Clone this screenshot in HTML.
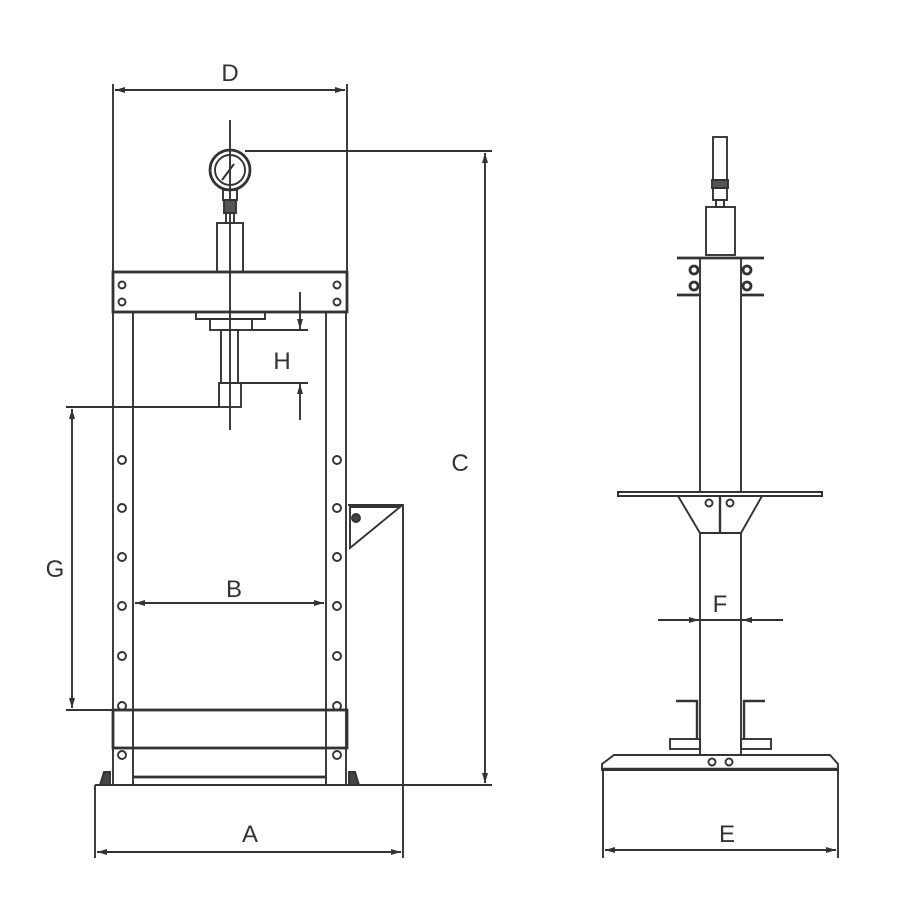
<!DOCTYPE html>
<html><head><style>
html,body{margin:0;padding:0;background:#fff;}
svg{display:block;}
text{font-family:"Liberation Sans",sans-serif;font-size:24px;fill:#333;text-anchor:middle;}
</style></head><body>
<svg width="900" height="900" viewBox="0 0 900 900" xmlns="http://www.w3.org/2000/svg">
<defs>
<marker id="ar" viewBox="0 0 10 6" refX="10" refY="3" markerWidth="10" markerHeight="6" orient="auto-start-reverse" markerUnits="userSpaceOnUse">
<path d="M0,0 L10,3 L0,6 z" fill="#333"/>
</marker>
</defs>
<g stroke="#333" stroke-width="1.9" fill="none">
<line x1="113" y1="84" x2="113" y2="272"/>
<line x1="347" y1="84" x2="347" y2="272"/>
<line x1="115" y1="90" x2="345" y2="90" marker-start="url(#ar)" marker-end="url(#ar)"/>
<line x1="230" y1="120" x2="230" y2="430"/>
<circle cx="230" cy="170" r="20" stroke-width="2.8"/>
<circle cx="230" cy="170" r="15"/>
<line x1="222" y1="180" x2="234" y2="164" stroke-width="2"/>
<line x1="245" y1="151" x2="492" y2="151"/>
<rect x="223" y="190" width="14" height="10"/>
<rect x="224" y="200" width="12" height="13" fill="#555"/>
<rect x="226" y="213" width="8" height="10"/>
<rect x="217" y="223" width="26" height="49"/>
<rect x="113" y="272" width="234" height="40" stroke-width="2.8"/>
<circle cx="122" cy="285" r="3.5"/><circle cx="122" cy="302" r="3.5"/>
<circle cx="337" cy="285" r="3.5"/><circle cx="337" cy="302" r="3.5"/>
<polyline points="196,312 196,319 265,319 265,312"/>
<rect x="210" y="319" width="42" height="11"/>
<rect x="221" y="330" width="17" height="53"/>
<rect x="219" y="383" width="22" height="24"/>
<line x1="252" y1="330" x2="308" y2="330"/>
<line x1="241" y1="383" x2="308" y2="383"/>
<line x1="300" y1="292" x2="300" y2="329" marker-end="url(#ar)"/>
<line x1="300" y1="420" x2="300" y2="384" marker-end="url(#ar)"/>
<line x1="113" y1="312" x2="113" y2="785"/>
<line x1="133" y1="312" x2="133" y2="785"/>
<line x1="326" y1="312" x2="326" y2="785"/>
<line x1="346" y1="312" x2="346" y2="785"/>
<line x1="66" y1="407" x2="219" y2="407"/>
<line x1="72" y1="409" x2="72" y2="708" marker-start="url(#ar)" marker-end="url(#ar)"/>
<line x1="66" y1="710" x2="113" y2="710"/>
<g>
<circle cx="122" cy="460" r="4"/><circle cx="122" cy="508" r="4"/><circle cx="122" cy="557" r="4"/><circle cx="122" cy="606" r="4"/><circle cx="122" cy="656" r="4"/><circle cx="122" cy="706" r="4"/><circle cx="122" cy="755" r="4"/>
<circle cx="337" cy="460" r="4"/><circle cx="337" cy="508" r="4"/><circle cx="337" cy="557" r="4"/><circle cx="337" cy="606" r="4"/><circle cx="337" cy="656" r="4"/><circle cx="337" cy="706" r="4"/><circle cx="337" cy="755" r="4"/>
</g>
<line x1="135" y1="603" x2="324" y2="603" marker-start="url(#ar)" marker-end="url(#ar)"/>
<rect x="113" y="710" width="234" height="38" stroke-width="2.8"/>
<line x1="133" y1="777" x2="326" y2="777" stroke-width="2.8"/>
<path d="M100,785 L104,772 L110,772 L110,785" fill="#444"/>
<path d="M359,785 L355,772 L349,772 L349,785" fill="#444"/>
<polyline points="348,505 403,505 403,858"/>
<polygon points="350,507 400,507 350,548"/>
<circle cx="356" cy="518" r="4" fill="#444"/>
<line x1="95" y1="785" x2="492" y2="785"/>
<line x1="95" y1="785" x2="95" y2="858"/>
<line x1="97" y1="852" x2="401" y2="852" marker-start="url(#ar)" marker-end="url(#ar)"/>
<line x1="485" y1="153" x2="485" y2="783" marker-start="url(#ar)" marker-end="url(#ar)"/>

<rect x="713" y="137" width="14" height="43"/>
<rect x="712" y="180" width="16" height="8" fill="#555"/>
<rect x="713" y="188" width="14" height="12"/>
<rect x="716" y="200" width="8" height="7"/>
<rect x="706" y="207" width="29" height="48"/>
<line x1="700" y1="258" x2="700" y2="493"/>
<line x1="741" y1="258" x2="741" y2="493"/>
<line x1="677" y1="258" x2="764" y2="258" stroke-width="2.8"/>
<line x1="677" y1="295" x2="700" y2="295" stroke-width="2.8"/>
<line x1="741" y1="295" x2="764" y2="295" stroke-width="2.8"/>
<circle cx="694" cy="270" r="4" stroke-width="2.8"/><circle cx="694" cy="286" r="4" stroke-width="2.8"/>
<circle cx="747" cy="270" r="4" stroke-width="2.8"/><circle cx="747" cy="286" r="4" stroke-width="2.8"/>
<rect x="618" y="492" width="204" height="4" stroke-width="2"/>
<polyline points="678,496 700,533 741,533 762,496"/>
<line x1="720" y1="496" x2="720" y2="533" stroke-width="2.4"/>
<circle cx="709" cy="503" r="3.5"/><circle cx="730" cy="503" r="3.5"/>
<line x1="700" y1="533" x2="700" y2="755"/>
<line x1="741" y1="533" x2="741" y2="755"/>
<line x1="700" y1="620" x2="741" y2="620"/>
<line x1="658" y1="620" x2="699" y2="620" marker-end="url(#ar)"/>
<line x1="783" y1="620" x2="742" y2="620" marker-end="url(#ar)"/>
<polyline points="676,701 697,701 697,739" stroke-width="2.4"/>
<rect x="670" y="739" width="30" height="10"/>
<polyline points="765,701 744,701 744,739" stroke-width="2.4"/>
<rect x="741" y="739" width="30" height="10"/>
<polygon points="614,755 830,755 838,764 838,770 602,770 602,764"/>
<line x1="602" y1="769" x2="838" y2="769" stroke-width="2.4"/>
<circle cx="712" cy="762" r="3.5"/><circle cx="729" cy="762" r="3.5"/>
<line x1="603" y1="770" x2="603" y2="858"/>
<line x1="838" y1="770" x2="838" y2="858"/>
<line x1="605" y1="850" x2="836" y2="850" marker-start="url(#ar)" marker-end="url(#ar)"/>
</g>
<text x="230" y="81">D</text>
<text x="282" y="369">H</text>
<text x="55" y="577">G</text>
<text x="234" y="597">B</text>
<text x="460" y="471">C</text>
<text x="250" y="842">A</text>
<text x="720" y="612">F</text>
<text x="727" y="842">E</text>
</svg>
</body></html>
